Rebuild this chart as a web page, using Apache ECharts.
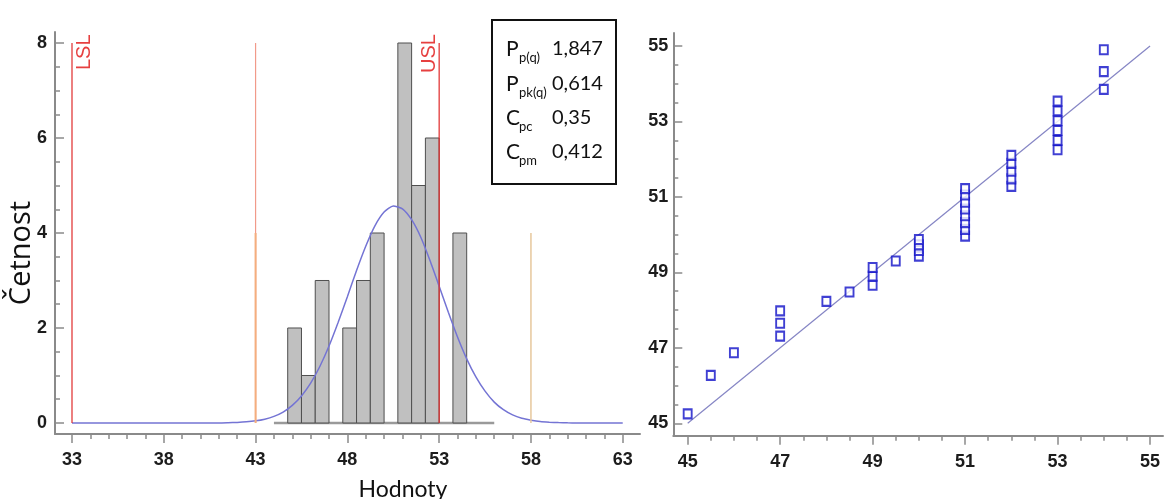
<!DOCTYPE html>
<html>
<head>
<meta charset="utf-8">
<script src="https://cdn.jsdelivr.net/npm/echarts@6/dist/echarts.min.js"></script>
<style>
  html, body { margin: 0; padding: 0; background: #ffffff; }
  #chart { width: 1164px; height: 499px; }
</style>
</head>
<body>
<div id="chart"></div>
<script>
// ---- Histogram of measured values (left panel) ----
const binLow  = [44.75, 45.5, 46.25, 47.75, 48.5, 49.25, 50.75, 51.5, 52.25, 53.75];
const binHigh = [45.5, 46.25, 47.0, 48.5, 49.25, 50.0, 51.5, 52.25, 53.0, 54.5];
const binCount = [2, 1, 3, 2, 3, 4, 8, 5, 6, 4];

// fitted density curve, scaled to counts
const curveX = [33, 35, 37, 39, 41, 41.5, 42, 42.5, 43, 43.5, 44, 44.5, 45, 45.5, 46, 46.5, 47, 47.5, 48, 48.5,
                49, 49.5, 50, 50.5, 51, 51.5, 52, 52.5, 53, 53.5, 54, 54.5, 55, 55.5, 56, 56.5, 57, 57.5,
                58, 58.5, 59, 59.5, 60, 60.5, 61, 63];
const curveY = [0, 0, 0, 0, 0, 0.005, 0.012, 0.024, 0.045, 0.081, 0.14, 0.23, 0.37, 0.57, 0.84, 1.19, 1.62, 2.12, 2.66, 3.21,
                3.72, 4.15, 4.44, 4.57, 4.51, 4.28, 3.91, 3.42, 2.88, 2.33, 1.81, 1.35, 0.97, 0.67, 0.44, 0.28, 0.17, 0.1,
                0.06, 0.03, 0.016, 0.008, 0.003, 0, 0, 0];

// range of the data under the histogram
const baseRange = [44, 56];

// specification limits
const specNames = ['LSL', 'USL'];
const specX = [33, 53];
const specTop = 8;
const targetX = 43;
const targetTop = 8;
const naturalX = [43, 58];
const naturalTop = 4;

const histXLabels = [33, 38, 43, 48, 53, 58, 63];
const histYLabels = [0, 2, 4, 6, 8];

// capability indices
const statMain = ['P', 'P', 'C', 'C'];
const statSub = ['p(q)', 'pk(q)', 'pc', 'pm'];
const statValue = ['1,847', '0,614', '0,35', '0,412'];

// ---- Q-Q plot (right panel) ----
const qqX = [45, 45.5, 46, 47, 47, 47, 48, 48.5, 49, 49, 49, 49.5,
             50, 50, 50, 50,
             51, 51, 51, 51, 51, 51, 51, 51,
             52, 52, 52, 52, 52,
             53, 53, 53, 53, 53, 53,
             54, 54, 54];
const qqY = [45.25, 46.27, 46.87, 47.31, 47.65, 47.98, 48.23, 48.48, 48.66, 48.9, 49.13, 49.3,
             49.43, 49.58, 49.73, 49.87,
             49.96, 50.14, 50.32, 50.5, 50.68, 50.86, 51.05, 51.22,
             51.28, 51.48, 51.68, 51.89, 52.1,
             52.25, 52.5, 52.76, 53.02, 53.28, 53.54,
             53.85, 54.32, 54.9];
const refLine = [45, 55];
const qqXLabels = [45, 47, 49, 51, 53, 55];
const qqYLabels = [45, 47, 49, 51, 53, 55];

function steps(from, to, step) {
  const out = [];
  for (let v = from; v <= to + 1e-9; v += step) out.push(Math.round(v * 100) / 100);
  return out;
}

const AXIS_COLOR = '#8a8a8a';
const TICK_FONT = {
  fontFamily: '"Liberation Sans", Arial, sans-serif',
  fontWeight: 'bold',
  fontSize: 18,
  color: '#1c1c1c'
};

function majorAxis(extra) {
  return Object.assign({
    type: 'value',
    axisLine: { show: true, onZero: false, lineStyle: { color: AXIS_COLOR, width: 2 } },
    splitLine: { show: false }
  }, extra);
}
function minorAxis(extra) {
  return Object.assign({
    type: 'value',
    axisLine: { show: false, onZero: false },
    axisLabel: { show: false },
    splitLine: { show: false }
  }, extra);
}

const chart = echarts.init(document.getElementById('chart'), null, { renderer: 'canvas' });

const histLeftMin = 32.074, histLeftMax = 63.94;
const histYMin = -0.2316, histYMax = 8.2316;
const qqXMin = 44.689, qqXMax = 55.28;
const qqYMin = 44.671, qqYMax = 55.345;

const series = [];

// baseline under histogram
series.push({
  type: 'line', xAxisIndex: 0, yAxisIndex: 0, silent: true, symbol: 'none',
  data: baseRange.map(x => [x, 0]),
  lineStyle: { color: '#9a9a9a', width: 2.5 }, z: 1
});

// histogram bars
series.push({
  type: 'custom', xAxisIndex: 0, yAxisIndex: 0, silent: true, z: 2,
  data: binLow.map((lo, i) => [lo, binHigh[i], binCount[i]]),
  encode: { x: [0, 1], y: 2 },
  renderItem: function (params, api) {
    const pTop = api.coord([api.value(0), api.value(2)]);
    const pBot = api.coord([api.value(1), 0]);
    return {
      type: 'rect',
      shape: { x: pTop[0], y: pTop[1], width: pBot[0] - pTop[0], height: pBot[1] - pTop[1] },
      style: { fill: '#c0c0c0', stroke: '#4f4f4f', lineWidth: 1 }
    };
  }
});

// density curve
series.push({
  type: 'line', xAxisIndex: 0, yAxisIndex: 0, silent: true, symbol: 'none',
  smooth: 0.2,
  data: curveX.map((x, i) => [x, curveY[i]]),
  lineStyle: { color: '#7474d4', width: 1.5 }, z: 4
});

// target line
series.push({
  type: 'line', xAxisIndex: 0, yAxisIndex: 0, silent: true, symbol: 'none',
  data: [[targetX, 0], [targetX, targetTop]],
  lineStyle: { color: '#f19a8a', width: 1.2 }, z: 5
});

// natural limits
naturalX.forEach((x, i) => {
  series.push({
    type: 'line', xAxisIndex: 0, yAxisIndex: 0, silent: true, symbol: 'none',
    data: [[x, 0], [x, naturalTop]],
    lineStyle: { color: i === 0 ? '#f4ae7e' : '#e7c79c', width: i === 0 ? 2 : 1.5 }, z: 5
  });
});

// specification limits with their labels
specX.forEach((x) => {
  series.push({
    type: 'line', xAxisIndex: 0, yAxisIndex: 0, silent: true, symbol: 'none',
    data: [[x, 0], [x, specTop]],
    lineStyle: { color: '#e02a2a', width: 1.2 }, z: 6
  });
});
series.push({
  type: 'scatter', xAxisIndex: 0, yAxisIndex: 0, silent: true,
  symbolSize: 0, z: 7,
  data: specX.map((x, i) => ({
    value: [x, specTop],
    label: {
      show: true,
      formatter: specNames[i],
      position: 'inside',
      rotate: 90,
      align: 'left',
      verticalAlign: 'middle',
      offset: i === 0 ? [-27, 12] : [-30, -10],
      fontFamily: '"Liberation Sans", Arial, sans-serif',
      fontSize: 20,
      color: '#e01010'
    }
  }))
});

// Q-Q reference line
series.push({
  type: 'line', xAxisIndex: 2, yAxisIndex: 2, silent: true, symbol: 'none',
  data: refLine.map(v => [v, v]),
  lineStyle: { color: '#8585c4', width: 1.2 }, z: 2
});

// Q-Q points
series.push({
  type: 'scatter', xAxisIndex: 2, yAxisIndex: 2, silent: true,
  symbol: 'rect', symbolSize: [8, 9], z: 3,
  data: qqX.map((x, i) => [x, qqY[i]]),
  itemStyle: { color: '#ffffff', borderColor: '#1010c8', borderWidth: 2 }
});

const statTextFont = 'Lato, "Open Sans", sans-serif';
const statRowY = [49, 84, 118, 152];
const graphics = [
  {
    type: 'rect', left: 491, top: 19, z: 10,
    shape: { width: 124, height: 164 },
    style: { fill: '#ffffff', stroke: '#111111', lineWidth: 2 }
  },
  {
    type: 'text', x: 22, y: 253, rotation: Math.PI / 2, z: 10,
    style: {
      text: 'Četnost', align: 'center', verticalAlign: 'middle',
      font: '29px "Open Sans", "Noto Sans", sans-serif', fill: '#111111'
    }
  },
  {
    type: 'text', x: 403, y: 490, z: 10,
    style: {
      text: 'Hodnoty', align: 'center', verticalAlign: 'middle',
      font: '23px Lato, "Open Sans", sans-serif', fill: '#111111'
    }
  }
];
statMain.forEach((m, i) => {
  graphics.push({
    type: 'text', x: 506, y: statRowY[i], z: 11,
    style: { text: m, align: 'left', verticalAlign: 'middle', font: '21px ' + statTextFont, fill: '#111111' }
  });
  graphics.push({
    type: 'text', x: 519, y: statRowY[i] + 9, z: 11,
    style: { text: statSub[i], align: 'left', verticalAlign: 'middle', font: '13px ' + statTextFont, fill: '#111111' }
  });
  graphics.push({
    type: 'text', x: 552, y: statRowY[i], z: 11,
    style: { text: statValue[i], align: 'left', verticalAlign: 'middle', font: '20px ' + statTextFont, fill: '#111111' }
  });
});

const option = {
  backgroundColor: '#ffffff',
  animation: false,
  grid: [
    { left: 55, right: 524, top: 32, bottom: 65, containLabel: false },
    { left: 673.3, right: 1, top: 33, bottom: 63.3, containLabel: false }
  ],
  xAxis: [
    majorAxis({
      gridIndex: 0, position: 'bottom', min: histLeftMin, max: histLeftMax,
      axisTick: { show: true, customValues: histXLabels, length: 9, lineStyle: { color: AXIS_COLOR, width: 1.5 } },
      axisLabel: Object.assign({ show: true, customValues: histXLabels, margin: 17 }, TICK_FONT)
    }),
    minorAxis({
      gridIndex: 0, position: 'bottom', min: histLeftMin, max: histLeftMax,
      axisTick: { show: true, customValues: steps(33, 63, 1), length: 5, lineStyle: { color: AXIS_COLOR, width: 1.5 } }
    }),
    majorAxis({
      gridIndex: 1, position: 'bottom', min: qqXMin, max: qqXMax,
      axisTick: { show: true, customValues: qqXLabels, length: 9, lineStyle: { color: AXIS_COLOR, width: 1.5 } },
      axisLabel: Object.assign({ show: true, customValues: qqXLabels, margin: 17 }, TICK_FONT)
    }),
    minorAxis({
      gridIndex: 1, position: 'bottom', min: qqXMin, max: qqXMax,
      axisTick: { show: true, customValues: steps(45, 55, 0.5), length: 5, lineStyle: { color: AXIS_COLOR, width: 1.5 } }
    })
  ],
  yAxis: [
    majorAxis({
      gridIndex: 0, position: 'left', min: histYMin, max: histYMax,
      axisTick: { show: true, inside: true, customValues: histYLabels, length: 9, lineStyle: { color: AXIS_COLOR, width: 1.5 } },
      axisLabel: Object.assign({ show: true, customValues: histYLabels, margin: 8 }, TICK_FONT)
    }),
    minorAxis({
      gridIndex: 0, position: 'left', min: histYMin, max: histYMax,
      axisTick: { show: true, inside: true, customValues: steps(0, 8, 0.5), length: 5, lineStyle: { color: AXIS_COLOR, width: 1.5 } }
    }),
    majorAxis({
      gridIndex: 1, position: 'left', min: qqYMin, max: qqYMax,
      axisTick: { show: true, inside: true, customValues: qqYLabels, length: 9, lineStyle: { color: AXIS_COLOR, width: 1.5 } },
      axisLabel: Object.assign({ show: true, customValues: qqYLabels, margin: 5 }, TICK_FONT)
    }),
    minorAxis({
      gridIndex: 1, position: 'left', min: qqYMin, max: qqYMax,
      axisTick: { show: true, inside: true, customValues: steps(45, 55, 0.5), length: 5, lineStyle: { color: AXIS_COLOR, width: 1.5 } }
    })
  ],
  series: series,
  graphic: graphics
};

chart.setOption(option);
</script>
</body>
</html>
